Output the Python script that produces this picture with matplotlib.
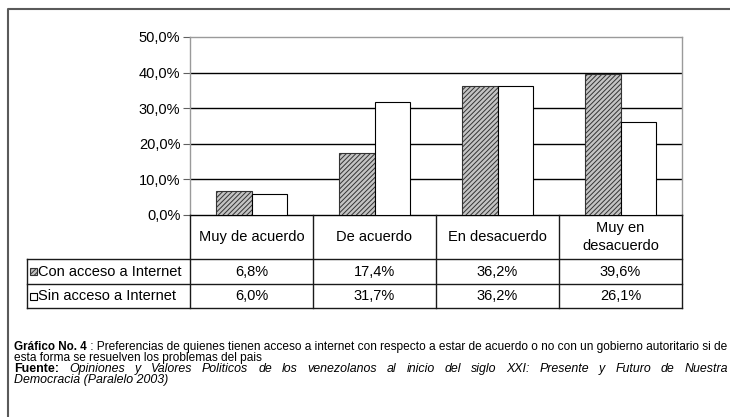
import matplotlib
matplotlib.use('Agg')
import matplotlib.pyplot as plt
import matplotlib.transforms as mtransforms
from matplotlib.patches import Rectangle
from matplotlib.lines import Line2D
import numpy as np

categories = ["Muy de acuerdo", "De acuerdo", "En desacuerdo", "Muy en\ndesacuerdo"]
series_names = ["Con acceso a Internet", "Sin acceso a Internet"]
con_acceso = [6.8, 17.4, 36.2, 39.6]
sin_acceso = [6.0, 31.7, 36.2, 26.1]
y_ticks = [0, 10, 20, 30, 40, 50]

caption_bold = "Gráfico No. 4"
caption_l1 = " : Preferencias de quienes tienen acceso a internet con respecto a estar de acuerdo o no con un gobierno autoritario si de"
caption_l2 = "esta forma se resuelven los problemas del pais"
source_bold = "Fuente:"
source_words = ["Opiniones", "y", "Valores", "Politicos", "de", "los", "venezolanos", "al",
                "inicio", "del", "siglo", "XXI:", "Presente", "y", "Futuro", "de", "Nuestra"]
source_l2 = "Democracia (Paralelo 2003)"

W, H = 730, 417
plt.rcParams['font.family'] = ['Liberation Sans', 'DejaVu Sans']
plt.rcParams['hatch.linewidth'] = 0.7
fig = plt.figure(figsize=(7.3, 4.17), dpi=100)


def fx(px):
    return px / W


def fy(py):
    return 1 - py / H


L, R, T, B = 190, 682, 37, 215
ax = fig.add_axes([fx(L), fy(B), fx(R) - fx(L), fy(T) - fy(B)])
n = len(categories)
x = np.arange(n)
bw = 0.285
hatch_style = dict(facecolor='#c4c4c4', edgecolor='#333333', hatch='///////')
ax.bar(x - bw / 2, con_acceso, bw, linewidth=0.8, zorder=3, **hatch_style)
ax.bar(x + bw / 2, sin_acceso, bw, facecolor='white', edgecolor='black',
       linewidth=0.8, zorder=3)
ax.set_xlim(-0.5, n - 0.5)
ax.set_ylim(0, 50)
ax.set_yticks(y_ticks)
ax.set_yticklabels([f"{v:.1f}%".replace('.', ',') for v in y_ticks], fontsize=10.5)
ax.set_xticks([])
for v in y_ticks[1:-1]:
    ax.axhline(v, color='black', lw=1.0, zorder=1)
for s in ['top', 'right', 'left']:
    ax.spines[s].set_color('#9a9a9a')
    ax.spines[s].set_linewidth(1.0)
ax.spines['bottom'].set_color('black')
ax.spines['bottom'].set_linewidth(1.0)
ax.tick_params(axis='y', length=5, width=0.8, color='#606060', pad=2)

# ---- data table below axis ----
bt = mtransforms.blended_transform_factory(ax.transData, fig.transFigure)
row_y = [215, 259, 284, 308]
lc = '#1a1a1a'
for yy in row_y[1:]:
    fig.add_artist(Line2D([fx(27), fx(R)], [fy(yy), fy(yy)], color=lc, lw=1.0,
                          transform=fig.transFigure))
fig.add_artist(Line2D([fx(27), fx(27)], [fy(259), fy(308)], color=lc, lw=1.0,
                      transform=fig.transFigure))
for b in np.arange(n + 1) - 0.5:
    fig.add_artist(Line2D([b, b], [fy(215), fy(308)], color=lc, lw=1.0, transform=bt))

for i, c in enumerate(categories):
    fig.text(i, fy(237), c, transform=bt, ha='center', va='center', fontsize=10.5,
             linespacing=1.45)
row_centers = [271.5, 296]
for vals, yc in zip([con_acceso, sin_acceso], row_centers):
    for i, v in enumerate(vals):
        fig.text(i, fy(yc), f"{v:.1f}%".replace('.', ','), transform=bt,
                 ha='center', va='center', fontsize=10.5)

# legend keys in row headers
key_styles = [hatch_style, dict(facecolor='white', edgecolor='black')]
for name, yc, st in zip(series_names, row_centers, key_styles):
    fig.add_artist(Rectangle((fx(29.5), fy(yc + 3.5)), fx(7), 7 / H,
                             transform=fig.transFigure, lw=0.8, **st))
    fig.text(fx(38.5), fy(yc), name, ha='left', va='center', fontsize=10.5)

# outer frame
fig.add_artist(Line2D([fx(7.5), fx(7.5), fx(731)], [fy(418), fy(8.5), fy(8.5)],
                      color='#5a5a5a', lw=1.5, transform=fig.transFigure))

# ---- caption ----
fig.canvas.draw()
rend = fig.canvas.get_renderer()
cb, cr, cf, ci = 8.4, 8.55, 9.0, 8.9
y1, y2, y3, y4 = 347, 357.5, 369, 380.5
t = fig.text(fx(14), fy(y1), caption_bold, fontsize=cb, fontweight='bold', va='center')
w = t.get_window_extent(rend).width
fig.text(fx(14) + w / W, fy(y1), caption_l1, fontsize=cr, va='center')
fig.text(fx(14), fy(y2), caption_l2, fontsize=cr, va='center')

t = fig.text(fx(14), fy(y3), source_bold, fontsize=cf, fontweight='bold', va='center')
wb = t.get_window_extent(rend).width
widths = []
tmp = []
for wd in source_words:
    tt = fig.text(0, 0, wd, fontsize=ci, style='italic')
    widths.append(tt.get_window_extent(rend).width)
    tmp.append(tt)
for tt in tmp:
    tt.remove()
left, right = 14, 728
gap = (right - left - wb - sum(widths)) / len(source_words)
xpos = left + wb + gap
for wd, wdt in zip(source_words, widths):
    fig.text(fx(xpos), fy(y3), wd, fontsize=ci, style='italic', va='center')
    xpos += wdt + gap
fig.text(fx(14), fy(y4), source_l2, fontsize=ci, style='italic', va='center')

fig.savefig('out.png', dpi=100)
